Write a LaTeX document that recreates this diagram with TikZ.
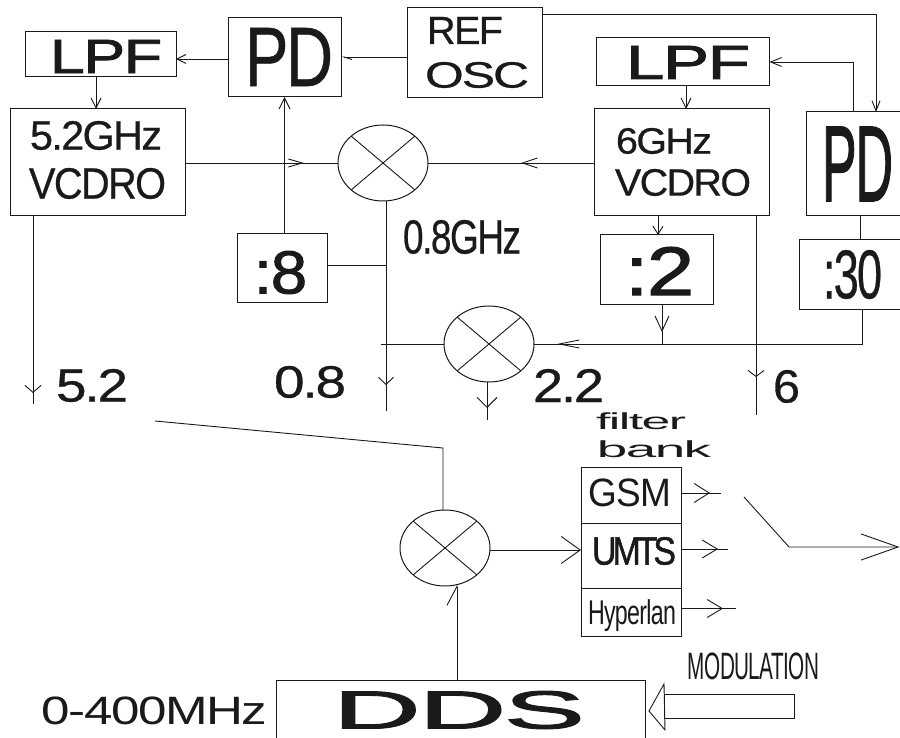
\documentclass[tikz,border=0pt]{standalone}
\usepackage{fontspec}
\setmainfont[LetterSpace=-3]{Liberation Sans}
\newfontfamily\medf[LetterSpace=-4,FakeBold=0.6]{Liberation Sans}
\newfontfamily\tightf[LetterSpace=-12,FakeBold=1.2]{Liberation Sans}
\newfontfamily\heavyf[LetterSpace=-2,FakeBold=1.6]{Liberation Sans}
\usetikzlibrary{arrows.meta,shapes.geometric}
\definecolor{ink}{HTML}{1A1A1A}
\tikzset{
  blockbox/.style={draw=ink,line width=1pt,rectangle,inner sep=0pt,outer sep=0pt},
  mixernode/.style={draw=ink,line width=1pt,ellipse,inner sep=0pt,outer sep=0pt,minimum width=90pt,minimum height=76pt},
  lab/.style={inner sep=0pt,outer sep=0pt,text=ink},
  wire/.style={draw=ink,line width=0.9pt},
  hd/.style 2 args={wire,-{Straight Barb[length=#1pt,width=#2pt,line width=0.9pt]}},
  hdhalf/.style 2 args={wire,-{Straight Barb[length=#1pt,width=#2pt,line width=0.9pt,left]}}
}
% \blk{name}{x1}{y1}{x2}{y2}: box by its corners
\newcommand\blk[5]{%
  \pgfmathsetmacro\bw{#4-#2}\pgfmathsetmacro\bh{#5-#3}%
  \node[blockbox,minimum width=\bw pt,minimum height=\bh pt] (#1) at ({(#2+#4)/2},{(#3+#5)/2}) {};}
% \lbl{name}{x1}{y1}{x2}{y2}{text}: text fitted to its extents
\newcommand\lbl[6]{%
  \pgfmathsetmacro\bw{#4-#2}\pgfmathsetmacro\bh{#5-#3}%
  \node[lab] (#1) at ({(#2+#4)/2},{(#3+#5)/2}) {\resizebox*{\bw pt}{\bh pt}{#6}};}
% \mixer{name}{x}{y}
\newcommand\mixer[3]{%
  \node[mixernode] (#1) at (#2,#3) {};
  \draw[wire] (#1.north west) -- (#1.south east);
  \draw[wire] (#1.north east) -- (#1.south west);}
\begin{document}
\begin{tikzpicture}[x=1pt,y=-1pt]
\useasboundingbox (0,0) rectangle (900,738);
\fill[white] (0,0) rectangle (900,738);
% boxes
\blk{lpfa}{25}{32}{176}{77}
\blk{pda}{228}{18}{341}{97}
\blk{ref}{407}{8}{542}{98}
\blk{vca}{10}{109}{185}{216}
\blk{diva}{237}{234}{327}{302}
\blk{lpfb}{596.5}{38}{769.5}{86}
\blk{vcb}{594.5}{109}{769.5}{216}
\blk{pdb}{806.5}{112}{900}{216}
\blk{divb}{600}{235}{713}{304}
\blk{divc}{799}{240}{900}{309}
\blk{gsm}{581}{467}{681}{523}
\blk{umts}{581}{523}{681}{588}
\blk{hyp}{581}{588}{681}{636}
% DDS box has no bottom edge in the frame
\coordinate (ddsw) at (276,738);
\coordinate (ddse) at (645.5,738);
\coordinate (ddsnw) at (276,680);
\coordinate (ddsne) at (645.5,680);
\draw[wire] (ddsw) -- (ddsnw) -- (ddsne) -- (ddse);
% mixers
\mixer{mxa}{383}{163}
\mixer{mxb}{489}{344}
\mixer{mxc}{445}{548}
% labels
\lbl{tlpfa}{50}{40}{162}{73}{\heavyf LPF}
\lbl{tpda}{245}{28}{333}{86}{\medf PD}
\lbl{tref}{427}{17}{503}{44}{\medf REF}
\lbl{tosc}{425}{62}{529}{88}{\medf OSC}
\lbl{tga}{30}{121}{162}{150}{\medf 5.2GHz}
\lbl{tvca}{29}{168}{166}{199}{\medf VCDRO}
\lbl{tdiva}{254}{251}{307}{294}{\heavyf :8}
\lbl{tghz}{403}{220}{521}{254}{\medf 0.8GHz}
\lbl{tfa}{56}{369}{128}{402}{\medf 5.2}
\lbl{tfb}{274}{366}{346}{398}{\medf 0.8}
\lbl{tlpfb}{626}{46}{750}{79}{\heavyf LPF}
\lbl{tgb}{616}{128}{712}{154}{\medf 6GHz}
\lbl{tvcb}{615}{169}{751}{196}{\medf VCDRO}
\lbl{tpdb}{822}{127}{893}{201}{\heavyf PD}
\lbl{tdivb}{625}{247}{694}{295}{\heavyf :2}
\lbl{tdivc}{823}{250}{882}{299}{\medf :30}
\lbl{tfc}{533}{369}{604}{402}{\medf 2.2}
\lbl{tfd}{773}{370}{800}{403}{\medf 6}
\lbl{tfilter}{596}{413}{686}{430}{filter}
\lbl{tbank}{597}{441}{711}{458}{bank}
\lbl{tgsm}{589}{479}{671}{507}{GSM}
\lbl{tumts}{592}{537}{676}{565}{\tightf UMTS}
\lbl{thyp}{588}{600}{676}{632}{Hyperlan}
\lbl{tmod}{688}{653}{819}{680}{MODULATION}
\lbl{tdds}{333}{691}{585}{729}{\heavyf DDS}
\lbl{tmhz}{42}{697}{267}{725}{0-400MHz}
% top left loop
\draw[hd={9}{9}] (pda.west |- 0,59) -- (lpfa.east |- 0,59);
\draw[hdhalf={8}{5}] (ref.west |- 0,57) -- (pda.east |- 0,57);
\draw[hd={10}{10}] (lpfa.south -| 96,0) -- (vca.north -| 96,0);
\draw[hd={11}{11}] (diva.north -| 284.5,0) -- (pda.south -| 284.5,0);
% into first mixer
\draw[wire] (vca.east |- 0,163) -- (mxa.west);
\draw[hd={14}{8}] (vca.east |- 0,163) -- (304,163);
\draw[wire] (vcb.west |- 0,163) -- (mxa.east);
\draw[hd={15}{10}] (vcb.west |- 0,163) -- (521,163);
% first mixer output
\coordinate (enda) at (386,411);
\draw[wire] (mxa.south -| 386,0) -- (enda);
\draw[hd={7}{15}] (mxa.south -| 386,0) -- (386,385);
\draw[wire] (diva.east |- 0,265) -- (386,265);
\coordinate (jna) at (381,344);
\draw[wire] (mxb.west) -- (jna);
% 5.2 output
\coordinate (endb) at (33,404);
\draw[wire] (vca.south -| 33,0) -- (endb);
\draw[hd={7}{16}] (vca.south -| 33,0) -- (33,393);
% 6 output
\coordinate (endc) at (756,415);
\draw[wire] (vcb.south -| 756,0) -- (endc);
\draw[hd={6}{16}] (vcb.south -| 756,0) -- (756,377);
% right loop
\draw[hd={10}{10}] (lpfb.south -| 686,0) -- (vcb.north -| 686,0);
\draw[hd={8}{10}] (vcb.south -| 658,0) -- (divb.north -| 658,0);
\draw[hd={11}{9}] (pdb.north -| 853,0) |- (lpfb.east |- 0,62);
\draw[hd={10}{8}] (ref.east |- 0,14) -| (pdb.north -| 876,0);
\draw[wire] (pdb.south -| 860,0) -- (divc.north -| 860,0);
% into second mixer
\coordinate (jnb) at (662,344);
\draw[wire] (divc.south -| 862,0) |- (mxb.east);
\draw[hd={20}{8}] (jnb) -- (557,344);
\draw[hd={15}{14}] (divb.south -| 662,0) -- (662,332);
\draw[wire] (divb.south -| 662,0) -- (jnb);
% second mixer output
\coordinate (endd) at (487,420);
\draw[wire] (mxb.south -| 487,0) -- (endd);
\draw[hd={10}{20}] (mxb.south -| 487,0) -- (487,408);
% third mixer
\coordinate (fba) at (155,421);
\draw[wire] (fba) -- (443,448) -- (mxc.north -| 443,0);
\draw[hd={19}{27}] (mxc.east |- 0,550) -- (umts.west |- 0,550);
\draw[hdhalf={19}{20}] (ddsne -| 457,0) -- (457,584.5);
% filter outputs
\coordinate (ga) at (721,493);
\coordinate (ua) at (728,549);
\coordinate (ha) at (736,608.5);
\draw[wire] (gsm.east |- ga) -- (ga);
\draw[hd={15}{19}] (gsm.east |- ga) -- (710,493);
\draw[wire] (umts.east |- ua) -- (ua);
\draw[hd={15}{18}] (umts.east |- ua) -- (718,549);
\draw[wire] (hyp.east |- ha) -- (ha);
\draw[hd={15}{18}] (hyp.east |- ha) -- (723,608.5);
% switch
\coordinate (swa) at (744,497);
\coordinate (swb) at (789,547);
\coordinate (swc) at (899.5,547);
\draw[hd={37}{26}] (swa) -- (swb) -- (swc);
% modulation arrow
\coordinate (mta) at (794,694);
\coordinate (mtb) at (664,694);
\coordinate (mtc) at (664,684);
\coordinate (mtd) at (649,711);
\coordinate (mte) at (665,730);
\coordinate (mtf) at (664,718);
\coordinate (mtg) at (794,718);
\draw[wire] (mta) -- (mtb) -- (mtf) -- (mtg) -- cycle;
\draw[wire] (mtc) -- (mtd) -- (mte) -- cycle;
\end{tikzpicture}
\end{document}
